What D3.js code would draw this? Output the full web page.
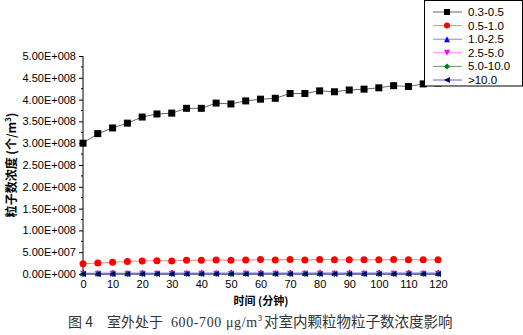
<!DOCTYPE html>
<html><head><meta charset="utf-8">
<script src="https://cdn.jsdelivr.net/npm/d3@7"></script>
<style>body{margin:0;background:#fff;}svg{display:block;}</style>
</head><body>
<svg id="c" width="523" height="335"></svg>
<script>
const times = [0,5,10,15,20,25,30,35,40,45,50,55,60,65,70,75,80,85,90,95,100,105,110,115,120];
const s03_05 = [3.00e8,3.22e8,3.35e8,3.46e8,3.60e8,3.67e8,3.69e8,3.80e8,3.80e8,3.92e8,3.90e8,3.97e8,4.01e8,4.03e8,4.14e8,4.14e8,4.20e8,4.18e8,4.22e8,4.24e8,4.27e8,4.32e8,4.30e8,4.36e8,4.38e8];
const s05_10 = [2.36e7,2.5e7,2.7e7,2.85e7,3.0e7,3.05e7,3.0e7,3.15e7,3.15e7,3.2e7,3.15e7,3.2e7,3.3e7,3.2e7,3.35e7,3.2e7,3.35e7,3.25e7,3.25e7,3.25e7,3.25e7,3.3e7,3.25e7,3.25e7,3.25e7];
const s10_25 = [1.8e6,1.9e6,2.0e6,2.0e6,2.1e6,2.1e6,2.1e6,2.2e6,2.2e6,2.2e6,2.2e6,2.3e6,2.3e6,2.3e6,2.3e6,2.3e6,2.4e6,2.4e6,2.4e6,2.4e6,2.4e6,2.4e6,2.4e6,2.4e6,2.4e6];
const s25_50 = [3.0e5,3.0e5,3.1e5,3.1e5,3.2e5,3.2e5,3.2e5,3.3e5,3.3e5,3.3e5,3.3e5,3.3e5,3.4e5,3.4e5,3.4e5,3.4e5,3.4e5,3.4e5,3.4e5,3.4e5,3.5e5,3.5e5,3.5e5,3.5e5,3.5e5];
const s50_100 = [5e4,5e4,5e4,5e4,5e4,5e4,5e4,5e4,5e4,5e4,5e4,5e4,5e4,5e4,5e4,5e4,5e4,5e4,5e4,5e4,5e4,5e4,5e4,5e4,5e4];
const s100 = [1e4,1e4,1e4,1e4,1e4,1e4,1e4,1e4,1e4,1e4,1e4,1e4,1e4,1e4,1e4,1e4,1e4,1e4,1e4,1e4,1e4,1e4,1e4,1e4,1e4];
const seriesNames = ["0.3-0.5","0.5-1.0","1.0-2.5","2.5-5.0","5.0-10.0",">10.0"];
const seriesColors = ["#000000","#ff0000","#0000ff","#ff00ff","#008000","#000080"];
const lineColors = ["#666666","#ff8080","#8080ff","#ff80ff","#60a060","#6060b0"];
const seriesSymbols = ["square","circle","triUp","triDown","diamond","triLeft"];
const seriesValues = [s03_05,s05_10,s10_25,s25_50,s50_100,s100];
const yTicks = [0,5e7,1e8,1.5e8,2e8,2.5e8,3e8,3.5e8,4e8,4.5e8,5e8];
const xTicks = [0,10,20,30,40,50,60,70,80,90,100,110,120];
const xTitle = "时间 (分钟)";
const yTitle = "粒子数浓度 (个/m";
const capParts = ["图 4", "室外处于", "600-700 μg/m", "3", "对室内颗粒物粒子数浓度影响"];

const svg = d3.select("#c");
const x = d3.scaleLinear().domain([0,120]).range([83,438]);
const y = d3.scaleLinear().domain([0,5e8]).range([274,56]);

function fmt(v){
  if(v===0) return "0.00E+000";
  const e = Math.floor(Math.log10(v));
  const m = v/Math.pow(10,e);
  return m.toFixed(2)+"E+"+String(e).padStart(3,"0");
}

// y axis
const ya = svg.append("g").attr("transform","translate(83,0)")
  .call(d3.axisLeft(y).tickValues(yTicks).tickFormat(fmt).tickSize(4).tickPadding(3));
ya.select(".domain").attr("d","M0,"+y(5e8)+"V"+y(0)).attr("stroke","#000");
ya.selectAll("text").style("font-family","Liberation Sans, Arial, sans-serif").style("font-size","11px").attr("fill","#000");
const minorY = d3.range(0,yTicks.length-1).map(i=>(yTicks[i]+yTicks[i+1])/2);
svg.append("g").selectAll("line").data(minorY).join("line")
  .attr("x1",83).attr("x2",81).attr("y1",d=>y(d)).attr("y2",d=>y(d)).attr("stroke","#000");

// x axis
const xa = svg.append("g").attr("transform","translate(0,274)")
  .call(d3.axisBottom(x).tickValues(xTicks).tickSize(-4).tickPadding(6));
xa.select(".domain").attr("d","M"+x(0)+",0H"+x(120)).attr("stroke","#000");
xa.selectAll("text").style("font-family","Liberation Sans, Arial, sans-serif").style("font-size","11px").attr("fill","#000");

function symbolPath(type, s){
  switch(type){
    case "square": return d3.symbol(d3.symbolSquare, s*s)();
    case "circle": return d3.symbol(d3.symbolCircle, Math.PI*(s/2)*(s/2))();
    case "triUp": return `M0,${-s/2}L${s/2},${s/2}L${-s/2},${s/2}Z`;
    case "triDown": return `M0,${s/2}L${s/2},${-s/2}L${-s/2},${-s/2}Z`;
    case "diamond": return `M0,${-s/2}L${s/2},0L0,${s/2}L${-s/2},0Z`;
    case "triLeft": return `M${-s/2},0L${s/2},${-s/2}L${s/2},${s/2}Z`;
  }
}

const line = d3.line().x((d,i)=>x(times[i])).y(d=>y(d));
seriesValues.forEach((vals,k)=>{
  const g = svg.append("g");
  g.append("path").datum(vals).attr("d",line).attr("fill","none")
    .attr("stroke",lineColors[k]).attr("stroke-width",1);
  g.selectAll("path.m").data(vals).join("path").attr("class","m")
    .attr("transform",(d,i)=>`translate(${x(times[i])},${y(d)})`)
    .attr("d",symbolPath(seriesSymbols[k], k<2?7:6))
    .attr("fill",seriesColors[k]);
});

// legend
const lg = svg.append("g");
lg.append("rect").attr("x",424.5).attr("y",0.5).attr("width",98).attr("height",85.5)
  .attr("fill","#fff").attr("stroke","#000").attr("stroke-width",1);
const legY = d3.scalePoint().domain(seriesNames).range([12,80]);
seriesNames.forEach((n,k)=>{
  const yy = legY(n);
  lg.append("line").attr("x1",433).attr("x2",462).attr("y1",yy).attr("y2",yy)
    .attr("stroke",lineColors[k]).attr("stroke-width",1);
  lg.append("path").attr("transform",`translate(447,${yy})`)
    .attr("d",symbolPath(seriesSymbols[k],6)).attr("fill",seriesColors[k]);
  lg.append("text").attr("x",468).attr("y",yy+4).text(n)
    .style("font-family","Liberation Sans, Arial, sans-serif").style("font-size","11.5px");
});

// axis titles
svg.append("text").attr("x",261).attr("y",305).attr("text-anchor","middle")
  .style("font-family","Noto Sans CJK SC, sans-serif").style("font-size","11px").style("font-weight","bold")
  .text(xTitle);
const yt = svg.append("text").attr("transform","translate(16,165) rotate(-90)").attr("text-anchor","middle")
  .style("font-family","Noto Sans CJK SC, sans-serif").style("font-size","12px").style("font-weight","bold");
yt.append("tspan").text(yTitle);
yt.append("tspan").attr("dy",-5).style("font-size","8px").text("3");
yt.append("tspan").attr("dy",5).text(")");

// caption
const cp = svg.append("text").attr("y",327).attr("fill","#333")
  .style("font-family","Noto Sans CJK SC, sans-serif").style("font-size","14px");
cp.append("tspan").attr("x",68).text(capParts[0]);
cp.append("tspan").attr("x",107).text(capParts[1]);
cp.append("tspan").attr("x",171).style("font-family","Liberation Serif, serif").style("font-size","14px").style("letter-spacing","0.6px").text(capParts[2]);
cp.append("tspan").attr("dy",-6).style("font-size","8px").text(capParts[3]);
cp.append("tspan").attr("x",264).attr("dy",6).style("font-size","14.5px").text(capParts[4]);
</script>
</body></html>
